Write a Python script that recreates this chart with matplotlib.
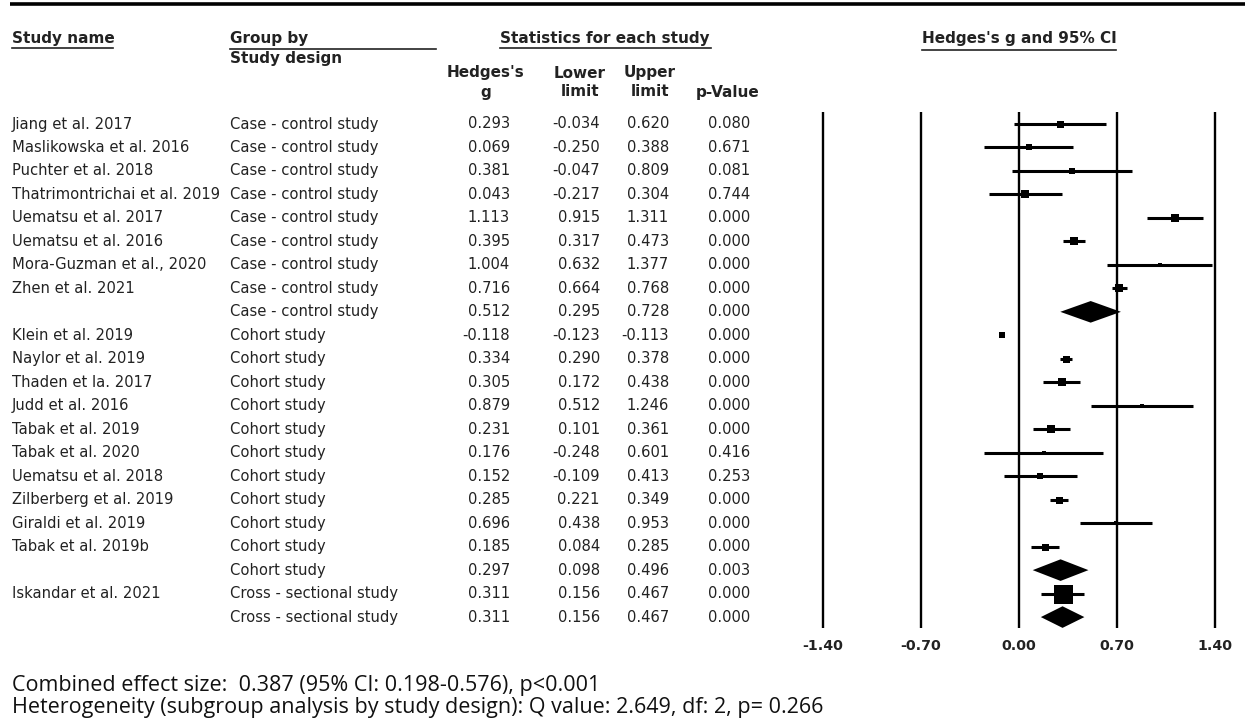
import matplotlib
matplotlib.use("Agg")
import matplotlib.pyplot as plt
from matplotlib import transforms

plt.rcParams['font.family'] = ['DejaVu Sans']

# study rows, top to bottom (summary rows have an empty name)
names = ["Jiang et al. 2017", "Maslikowska et al. 2016", "Puchter et al. 2018",
         "Thatrimontrichai et al. 2019", "Uematsu et al. 2017", "Uematsu et al. 2016",
         "Mora-Guzman et al., 2020", "Zhen et al. 2021", "",
         "Klein et al. 2019", "Naylor et al. 2019", "Thaden et la. 2017",
         "Judd et al. 2016", "Tabak et al. 2019", "Tabak et al. 2020",
         "Uematsu et al. 2018", "Zilberberg et al. 2019", "Giraldi et al. 2019",
         "Tabak et al. 2019b", "", "Iskandar et al. 2021", ""]
groups = ["Case - control study"] * 9 + ["Cohort study"] * 11 + ["Cross - sectional study"] * 2
g = [0.293, 0.069, 0.381, 0.043, 1.113, 0.395, 1.004, 0.716, 0.512,
     -0.118, 0.334, 0.305, 0.879, 0.231, 0.176, 0.152, 0.285, 0.696, 0.185, 0.297,
     0.311, 0.311]
lower = [-0.034, -0.250, -0.047, -0.217, 0.915, 0.317, 0.632, 0.664, 0.295,
         -0.123, 0.290, 0.172, 0.512, 0.101, -0.248, -0.109, 0.221, 0.438, 0.084, 0.098,
         0.156, 0.156]
upper = [0.620, 0.388, 0.809, 0.304, 1.311, 0.473, 1.377, 0.768, 0.728,
         -0.113, 0.378, 0.438, 1.246, 0.361, 0.601, 0.413, 0.349, 0.953, 0.285, 0.496,
         0.467, 0.467]
pvals = ["0.080", "0.671", "0.081", "0.744", "0.000", "0.000", "0.000", "0.000", "0.000",
         "0.000", "0.000", "0.000", "0.000", "0.000", "0.416", "0.253", "0.000", "0.000",
         "0.000", "0.003", "0.000", "0.000"]
is_summary = [n == "" for n in names]
# box side (px) reflects relative weight
box_px = [7, 6, 6, 8, 8, 8, 5, 8, 0,
          6, 7, 8, 4, 8, 4, 6, 7, 4, 7, 0,
          19, 0]
ticks = [-1.40, -0.70, 0.00, 0.70, 1.40]

W, H = 1245, 723
row0, row_step = 124, 23.48
TXT = "#222222"

fig = plt.figure(figsize=(W / 100, H / 100), dpi=100)
tab = fig.add_axes([0, 0, 1, 1])
tab.set_xlim(0, W)
tab.set_ylim(H, 0)
tab.axis("off")

ax = fig.add_axes([0, 0, 1, 1])
px_per_unit = 140
zero_px = 1019
ax.set_xlim(-zero_px / px_per_unit, (W - zero_px) / px_per_unit)
ax.set_ylim((H - row0) / row_step, -row0 / row_step)
ax.axis("off")

# header
tab.plot([10, W], [4, 4], color="black", lw=2.6, solid_capstyle="butt")
hdr = dict(fontsize=11, fontweight="bold", color=TXT, va="center")
tab.text(12, 39, "Study name", ha="left", **hdr)
tab.plot([12, 113], [48, 48], color=TXT, lw=1.2)
tab.text(230, 39, "Group by", ha="left", **hdr)
tab.plot([230, 436], [49, 49], color=TXT, lw=1.2)
tab.text(230, 59, "Study design", ha="left", **hdr)
tab.text(605, 39, "Statistics for each study", ha="center", **hdr)
tab.plot([500, 711], [48, 48], color=TXT, lw=1.2)
tab.text(1019, 39, "Hedges's g and 95% CI", ha="center", **hdr)
tab.plot([922, 1116], [50, 50], color=TXT, lw=1.2)
tab.text(486, 73, "Hedges's", ha="center", **hdr)
tab.text(486, 92, "g", ha="center", **hdr)
tab.text(580, 73, "Lower", ha="center", **hdr)
tab.text(580, 92, "limit", ha="center", **hdr)
tab.text(650, 73, "Upper", ha="center", **hdr)
tab.text(650, 92, "limit", ha="center", **hdr)
tab.text(728, 92, "p-Value", ha="center", **hdr)

# table body: x in pixels, y in row units
tr = transforms.blended_transform_factory(tab.transData, ax.transData)
body = dict(fontsize=10.6, color=TXT, va="center", transform=tr)
for i in range(len(names)):
    tab.text(12, i, names[i], ha="left", **body)
    tab.text(230, i, groups[i], ha="left", **body)
    tab.text(510, i, f"{g[i]:.3f}", ha="right", **body)
    tab.text(600, i, f"{lower[i]:.3f}", ha="right", **body)
    tab.text(669, i, f"{upper[i]:.3f}", ha="right", **body)
    tab.text(750, i, pvals[i], ha="right", **body)

# forest plot
n = len(names)
ax.vlines(ticks, -0.52, n - 0.55, color="black", lw=1.7)
for t in ticks:
    ax.text(t, n + 0.22, f"{t:.2f}", ha="center", va="center", fontsize=10.2,
            fontweight="bold", color=TXT)

for i in range(n):
    if is_summary[i]:
        h = 0.46
        ax.fill([lower[i], g[i], upper[i], g[i]], [i, i - h, i, i + h],
                color="black", lw=0)
    else:
        ax.plot([lower[i], upper[i]], [i, i], color="black", lw=2.2,
                solid_capstyle="butt")
        ax.scatter([g[i]], [i], marker="s", s=(box_px[i] * 0.72) ** 2,
                   color="black", lw=0, zorder=3)

# footnotes
foot = dict(fontsize=15.5, color="#111111", va="center", family=["Open Sans", "DejaVu Sans"])
tab.text(12, 685, "Combined effect size:  0.387 (95% CI: 0.198-0.576), p<0.001", **foot)
tab.text(12, 708, "Heterogeneity (subgroup analysis by study design): Q value: 2.649, df: 2, p= 0.266",
         **foot)

fig.savefig("out.png", dpi=100)
